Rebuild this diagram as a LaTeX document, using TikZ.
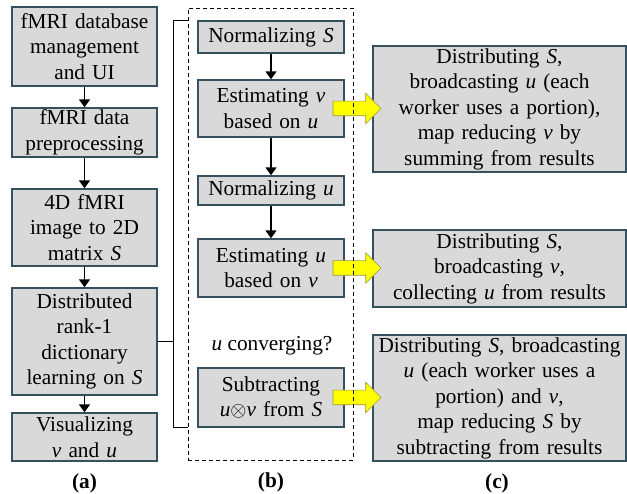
\documentclass[tikz,border=0pt]{standalone}
\usepackage{fontspec}
\setmainfont{Liberation Serif}
\usepackage{amsmath}
\usetikzlibrary{shapes.arrows,arrows.meta,positioning}
\definecolor{boxfill}{HTML}{D9D9D9}
\definecolor{boxline}{RGB}{55,80,95}
\definecolor{arrowfill}{HTML}{FFFF00}
\tikzset
{
    stepnode/.style   = {draw=boxline, fill=boxfill, line width=1.4pt, inner sep=0pt, align=center, font=\fontsize{21.3}{25.5}\selectfont},
    flowarrow/.style  = {-{Triangle[length=8pt,width=11pt]}, line width=1.8pt},
    yellowarrow/.style = {single arrow, draw=yellow!55!black, fill=arrowfill, line width=0.6pt, minimum height=48pt, minimum width=30pt, single arrow head extend=8pt, inner xsep=0pt, inner ysep=7pt, anchor=tail},
    caption/.style    = {font=\fontsize{21.3}{25.5}\selectfont\bfseries}
}

\begin{document}
\begin{tikzpicture}[x=1pt, y=-1pt]
    \useasboundingbox (0,0) rectangle (627,494);

    % (a) pipeline
    \node [stepnode, text width=145pt, minimum height=79pt] (dbui) at (84.5,46.5) {fMRI database\\ management\\ and UI};
    \node [stepnode, text width=145pt, minimum height=49pt] (prep) at (84.5,132.5) {fMRI data\\ preprocessing};
    \node [stepnode, text width=145pt, minimum height=77pt] (tomat) at (84.5,227.5) {4D fMRI\\ image to 2D\\ matrix \textit{S}};
    \node [stepnode, text width=145pt, minimum height=107pt] (dict) at (84.5,341.5) {Distributed\\ rank-1\\ dictionary\\ learning on \textit{S}};
    \node [stepnode, text width=145pt, minimum height=48pt] (vis) at (84.5,437) {Visualizing\\ \textit{v} and \textit{u}};
    \draw [flowarrow] (dbui) -- (prep);
    \draw [flowarrow] (prep) -- (tomat);
    \draw [flowarrow] (tomat) -- (dict);
    \draw [flowarrow] (dict) -- (vis);

    % (b) one rank-1 step
    \node [stepnode, text width=146pt, minimum height=32pt] (normS) at (271,37) {Normalizing \textit{S}};
    \node [stepnode, text width=146pt, minimum height=57pt] (estv) at (271,108.5) {Estimating \textit{v}\\ based on \textit{u}};
    \node [stepnode, text width=146pt, minimum height=29pt] (normu) at (271,190.5) {Normalizing \textit{u}};
    \node [stepnode, text width=146pt, minimum height=58pt] (estu) at (271,268) {Estimating \textit{u}\\ based on \textit{v}};
    \node [font=\fontsize{21.3}{25.5}\selectfont] (conv) at (272,346) {\textit{u} converging?};
    \node [stepnode, text width=146pt, minimum height=59pt] (subt) at (271,397.5) {Subtracting\\ \textit{u}$\otimes$\textit{v} from \textit{S}};
    \draw [flowarrow] (normS) -- (estv);
    \draw [flowarrow] (estv) -- (normu);
    \draw [flowarrow] (normu) -- (estu);

    % (c) distributed operations
    \node [stepnode, text width=253pt, minimum height=126pt] (mapv) at (499.5,109) {Distributing \textit{S},\\ broadcasting \textit{u} (each\\ worker uses a portion),\\ map reducing \textit{v} by\\ summing from results};
    \node [stepnode, text width=253pt, minimum height=77pt] (collu) at (499.5,268.5) {Distributing \textit{S},\\ broadcasting \textit{v},\\ collecting \textit{u} from results};
    \node [stepnode, text width=253pt, minimum height=126pt] (mapS) at (499.5,398) {Distributing \textit{S}, broadcasting\\ \textit{u} (each worker uses a\\ portion) and \textit{v},\\ map reducing \textit{S} by\\ subtracting from results};

    \node [yellowarrow] (av) at ([xshift=-12pt]estv.east) {};
    \node [yellowarrow] (au) at ([xshift=-12pt]estu.east) {};
    \node [yellowarrow] (as) at ([xshift=-12pt]subt.east) {};

    % dashed frame and bracket from (a) to (b)
    \node [draw, dashed, dash pattern=on 4pt off 3pt, line width=0.9pt, minimum width=165pt, minimum height=452pt, inner sep=0pt] (loop) at (270.5,234) {};
    \draw [line width=1.2pt] (dict.east) -- ++(16,0) coordinate (brk);
    \draw [line width=1.2pt] (loop.west |- normS.north) -| (brk) |- (loop.west |- subt.south);

    % captions
    \node [caption] (capa) at (84.5,483) {(a)};
    \node [caption] (capb) at (271,482) {(b)};
    \node [caption] (capc) at (497,483) {(c)};
\end{tikzpicture}
\end{document}
